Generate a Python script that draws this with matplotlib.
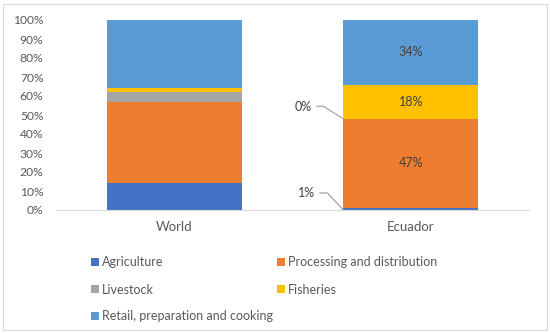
import matplotlib
matplotlib.use("Agg")
import matplotlib.pyplot as plt
from matplotlib.patches import Rectangle
import numpy as np

plt.rcParams['font.family'] = ['Lato', 'DejaVu Sans']

# ---- data (shares, %) ----
regions = ["World", "Ecuador"]
sectors = ["Agriculture", "Processing and distribution", "Livestock",
           "Fisheries", "Retail, preparation and cooking"]
agriculture = [14, 1]
processing = [43, 47]
livestock = [5, 0]
fisheries = [2, 18]
retail = [36, 34]
colors = ["#4472C4", "#ED7D31", "#A5A5A5", "#FFC000", "#5B9BD5"]

series = [agriculture, processing, livestock, fisheries, retail]

W, H = 550, 333
ax_left, ax_right, ax_bottom, ax_top = 56, 529, 210, 20

fig = plt.figure(figsize=(W / 100, H / 100), dpi=100)
ax = fig.add_axes([ax_left / W, 1 - ax_bottom / H,
                   (ax_right - ax_left) / W, (ax_bottom - ax_top) / H])

bar_w = 0.57
x = np.arange(len(regions))
bottom = np.zeros(len(regions))
bars = []
for vals, col, name in zip(series, colors, sectors):
    v = np.array(vals) / 100.0
    b = ax.bar(x, v, width=bar_w, bottom=bottom, color=col, label=name, zorder=2)
    bars.append(b)
    bottom += v

ax.set_xlim(-0.5, 1.5)
ax.set_ylim(0, 1)
yt = np.arange(0, 1.01, 0.1)
ax.set_yticks(yt)
ax.set_yticklabels([f"{int(round(t * 100))}%" for t in yt])
ax.set_xticks(x)
ax.set_xticklabels(regions)
ax.tick_params(axis='y', length=0, pad=9, labelsize=8.7, labelcolor="#595959")
ax.tick_params(axis='x', length=0, pad=8, labelsize=9.5, labelcolor="#595959")
for s in ["left", "right", "top"]:
    ax.spines[s].set_visible(False)
ax.spines["bottom"].set_color("#D9D9D9")
ax.spines["bottom"].set_zorder(3)

# ---- data labels for Ecuador ----
ec = 1
cum = 0.0
inside = {1, 3, 4}
for i, vals in enumerate(series):
    v = vals[ec] / 100.0
    if i in inside:
        ax.text(ec, cum + v / 2, f"{vals[ec]}%", ha="center", va="center",
                fontsize=9, color="#404040", zorder=4)
    cum += v

# pixel offsets -> data units
px_x = 2.0 / (ax_right - ax_left)
px_y = 1.0 / (ax_bottom - ax_top)
left_edge = ec - bar_w / 2


def leader(label, y0, corner, hend, text_off):
    cx, cy = left_edge + corner[0] * px_x, y0 + corner[1] * px_y
    hx = cx + hend * px_x
    ax.plot([left_edge, cx, hx], [y0, cy, cy], color="#A6A6A6", lw=0.9,
            solid_capstyle="butt", zorder=3)
    ax.text(left_edge + text_off[0] * px_x, y0 + text_off[1] * px_y, label,
            ha="center", va="center", fontsize=9, color="#404040")


leader(f"{livestock[ec]}%", (agriculture[ec] + processing[ec]) / 100.0,
       (-20, 12.5), -7, (-40, 12))
leader(f"{agriculture[ec]}%", 0.0, (-16, 17), -8, (-36.5, 17))

# ---- legend (row-wise order like the original) ----
order = [0, 2, 4, 1, 3]
handles = [bars[i] for i in order]
labels = [sectors[i] for i in order]
fig.legend(handles, labels, ncol=2, loc="upper left",
           bbox_to_anchor=(91 / W, 1 - 256.5 / H), frameon=False,
           fontsize=9, labelcolor="#595959", handlelength=0.65, handleheight=0.65,
           handletextpad=0.25, columnspacing=0.3, labelspacing=1.2,
           borderpad=0, borderaxespad=0)

# outer border
fig.patches.append(Rectangle((3 / W, 3 / H), 544 / W, 326 / H,
                             transform=fig.transFigure, fill=False,
                             edgecolor="#D9D9D9", lw=0.8))

fig.savefig("out.png", dpi=100)
